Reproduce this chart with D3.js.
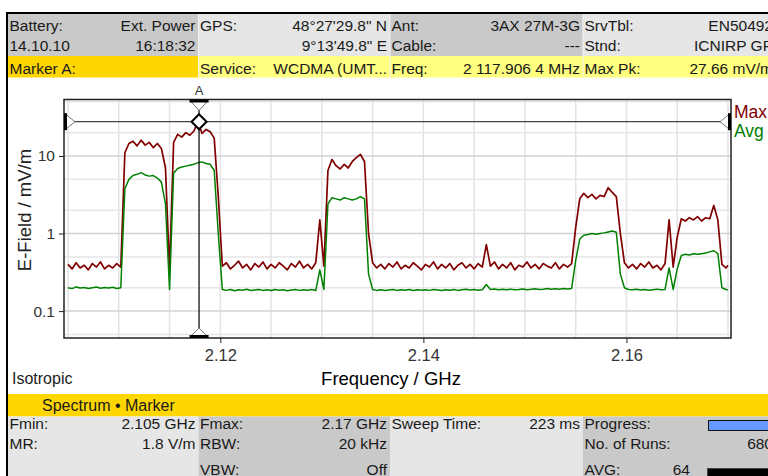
<!DOCTYPE html>
<html><head><meta charset="utf-8">
<script src="https://cdn.jsdelivr.net/npm/d3@7"></script>
<style>
html,body{margin:0;padding:0;background:#fff;overflow:hidden;}
svg{display:block;font-family:"Liberation Sans",Arial,sans-serif;}
</style></head><body>
<svg id="c" width="768" height="476"></svg>
<script>
// ---------- data ----------
const freqMHz = [
 2105.0, 2105.4, 2105.8, 2106.2, 2106.6, 2107.0, 2107.4, 2107.8, 2108.2, 2108.6,
 2109.0, 2109.4, 2109.8, 2110.2, 2110.6, 2111.0, 2111.4, 2111.8, 2112.2, 2112.6,
 2113.0, 2113.4, 2113.8, 2114.2, 2114.6, 2115.0, 2115.4, 2115.8, 2116.2, 2116.6,
 2117.0, 2117.4, 2117.8, 2118.2, 2118.6, 2119.0, 2119.4, 2119.8, 2120.2, 2120.6,
 2121.0, 2121.4, 2121.8, 2122.2, 2122.6, 2123.0, 2123.4, 2123.8, 2124.2, 2124.6,
 2125.0, 2125.4, 2125.8, 2126.2, 2126.6, 2127.0, 2127.4, 2127.8, 2128.2, 2128.6,
 2129.0, 2129.4, 2129.8, 2130.2, 2130.6, 2131.0, 2131.4, 2131.8, 2132.2, 2132.6,
 2133.0, 2133.4, 2133.8, 2134.2, 2134.6, 2135.0, 2135.4, 2135.8, 2136.2, 2136.6,
 2137.0, 2137.4, 2137.8, 2138.2, 2138.6, 2139.0, 2139.4, 2139.8, 2140.2, 2140.6,
 2141.0, 2141.4, 2141.8, 2142.2, 2142.6, 2143.0, 2143.4, 2143.8, 2144.2, 2144.6,
 2145.0, 2145.4, 2145.8, 2146.2, 2146.6, 2147.0, 2147.4, 2147.8, 2148.2, 2148.6,
 2149.0, 2149.4, 2149.8, 2150.2, 2150.6, 2151.0, 2151.4, 2151.8, 2152.2, 2152.6,
 2153.0, 2153.4, 2153.8, 2154.2, 2154.6, 2155.0, 2155.4, 2155.8, 2156.2, 2156.6,
 2157.0, 2157.4, 2157.8, 2158.2, 2158.6, 2159.0, 2159.4, 2159.8, 2160.2, 2160.6,
 2161.0, 2161.4, 2161.8, 2162.2, 2162.6, 2163.0, 2163.4, 2163.8, 2164.2, 2164.6,
 2165.0, 2165.4, 2165.8, 2166.2, 2166.6, 2167.0, 2167.4, 2167.8, 2168.2, 2168.6,
 2169.0, 2169.4, 2169.8, 2170.0
];
const maxTrace = [
 0.40, 0.35, 0.42, 0.36, 0.39, 0.34, 0.41, 0.37, 0.43, 0.35,
 0.39, 0.36, 0.41, 0.37, 11.0, 14.5, 15.5, 13.5, 16.0, 13.8,
 15.0, 12.8, 14.5, 12.5, 7.0, 0.33, 15.0, 19.0, 17.5, 20.0,
 18.5, 21.0, 27.66, 19.5, 22.0, 20.5, 17.0, 3.0, 0.38, 0.42,
 0.35, 0.39, 0.44, 0.36, 0.40, 0.34, 0.41, 0.37, 0.43, 0.35,
 0.40, 0.36, 0.42, 0.38, 0.34, 0.41, 0.37, 0.44, 0.36, 0.40,
 0.35, 0.42, 1.5, 0.38, 6.5, 9.0, 7.5, 6.8, 7.8, 7.0,
 8.5, 9.5, 10.5, 8.5, 1.0, 0.42, 0.36, 0.40, 0.35, 0.41,
 0.37, 0.43, 0.35, 0.39, 0.36, 0.42, 0.38, 0.34, 0.40, 0.37,
 0.43, 0.35, 0.40, 0.36, 0.41, 0.34, 0.39, 0.42, 0.36, 0.40,
 0.35, 0.41, 0.37, 0.72, 0.38, 0.43, 0.35, 0.40, 0.36, 0.42,
 0.34, 0.39, 0.37, 0.43, 0.36, 0.40, 0.35, 0.41, 0.38, 0.36,
 0.42, 0.35, 0.40, 0.37, 0.41, 1.2, 2.8, 3.3, 2.9, 3.2,
 2.8, 3.1, 3.0, 3.9, 3.4, 3.0, 1.0, 0.42, 0.36, 0.40,
 0.35, 0.41, 0.37, 0.43, 0.36, 0.39, 0.34, 0.41, 1.5, 0.37,
 0.9, 1.55, 1.45, 1.6, 1.5, 1.65, 1.45, 1.6, 1.55, 2.3,
 1.5, 0.40, 0.36, 0.39
];
const avgTrace = [
 0.200, 0.195, 0.205, 0.198, 0.202, 0.196, 0.200, 0.204, 0.197, 0.201,
 0.199, 0.203, 0.196, 0.200, 3.8, 5.0, 5.6, 5.8, 6.1, 5.7,
 5.5, 5.6, 5.2, 4.6, 2.4, 0.19, 6.0, 6.9, 7.2, 7.4,
 7.6, 7.8, 8.2, 8.4, 8.0, 7.8, 6.5, 1.0, 0.19, 0.185,
 0.190, 0.183, 0.188, 0.186, 0.191, 0.184, 0.187, 0.190, 0.185, 0.188,
 0.184, 0.190, 0.186, 0.189, 0.183, 0.187, 0.190, 0.185, 0.188, 0.186,
 0.190, 0.184, 0.34, 0.19, 2.4, 2.9, 2.8, 2.7, 2.9, 2.8,
 2.7, 2.8, 3.0, 2.8, 0.3, 0.19, 0.185, 0.188, 0.184, 0.187,
 0.190, 0.185, 0.188, 0.186, 0.190, 0.184, 0.188, 0.186, 0.189, 0.185,
 0.190, 0.187, 0.184, 0.189, 0.186, 0.190, 0.185, 0.188, 0.191, 0.187,
 0.190, 0.186, 0.189, 0.22, 0.190, 0.193, 0.188, 0.191, 0.189, 0.192,
 0.188, 0.190, 0.193, 0.189, 0.191, 0.194, 0.190, 0.192, 0.195, 0.191,
 0.194, 0.192, 0.195, 0.193, 0.196, 0.45, 0.85, 0.95, 0.97, 1.0,
 0.98, 1.0, 1.02, 1.05, 1.08, 1.04, 0.3, 0.2, 0.19, 0.188,
 0.191, 0.187, 0.190, 0.186, 0.189, 0.192, 0.188, 0.190, 0.36, 0.19,
 0.35, 0.52, 0.54, 0.53, 0.55, 0.54, 0.55, 0.56, 0.58, 0.60,
 0.55, 0.20, 0.19, 0.188
];
const seriesNames = ["Max", "Avg"];
const xTickValues = [2.12, 2.14, 2.16];
const yTickValues = [0.1, 1, 10];
const yTickLabels = ["0.1", "1", "10"];
const markerFreqGHz = 2.1179064;
const markerPeak = 27.66;

const headerLabels = [
  ["Battery:", "GPS:", "Ant:", "SrvTbl:"],
  ["14.10.10", "", "Cable:", "Stnd:"],
  ["Marker A:", "Service:", "Freq:", "Max Pk:"]
];
const headerValues = [
  ["Ext. Power", "48°27'29.8\" N", "3AX 27M-3G", "EN50492"],
  ["16:18:32", "9°13'49.8\" E", "---", "ICNIRP GP"],
  ["", "WCDMA (UMT...", "2 117.906 4 MHz", "27.66 mV/m"]
];
const footerLabels = [
  ["Fmin:", "Fmax:", "Sweep Time:", "Progress:"],
  ["MR:", "RBW:", "", "No. of Runs:"],
  ["", "VBW:", "", "AVG:"]
];
const footerValues = [
  ["2.105 GHz", "2.17 GHz", "223 ms", ""],
  ["1.8 V/m", "20 kHz", "", "680"],
  ["", "Off", "", ""]
];
const avgCount = "64";

// ---------- drawing ----------
const svg = d3.select("#c");
const FONT = 15.5;
const colX = [8, 198.5, 390, 583];
const colR = [198.5, 390, 583, 776];

// header
const hdrBg12 = ["#c9c9c9", "#e6e6e6", "#c9c9c9", "#e6e6e6"];
const hdrBg3 = ["#ffd700", "#ffff80", "#ffff80", "#ffff80"];
colX.forEach((cx, c) => {
  svg.append("rect").attr("x", cx).attr("y", 14).attr("width", colR[c] - cx).attr("height", 42).attr("fill", hdrBg12[c]);
  svg.append("rect").attr("x", cx).attr("y", 56).attr("width", colR[c] - cx).attr("height", 21.5).attr("fill", hdrBg3[c]);
});
[198.5, 390, 583].forEach(sx => {
  svg.append("line").attr("x1", sx).attr("x2", sx).attr("y1", 14).attr("y2", 77.5)
    .attr("stroke", "#f2f2f2").attr("stroke-width", 1);
});
const hdrBase = [30.5, 50.5, 73.5];
headerLabels.forEach((row, r) => row.forEach((t, c) => {
  svg.append("text").attr("x", colX[c] + 1.5).attr("y", hdrBase[r]).attr("font-size", FONT).attr("fill", "#1a1a1a").text(t);
  svg.append("text").attr("x", c === 3 ? 773 : colR[c] - 3).attr("y", hdrBase[r]).attr("text-anchor", "end")
    .attr("font-size", FONT).attr("fill", "#1a1a1a").text(headerValues[r][c]);
}));

// footer
svg.append("rect").attr("x", 8).attr("y", 394).attr("width", 770).attr("height", 22.5).attr("fill", "#ffd700");
svg.append("text").attr("x", 42).attr("y", 410.5).attr("font-size", 16).attr("fill", "#1a1a1a").text("Spectrum • Marker");
const ftBg = ["#e6e6e6", "#c9c9c9", "#e6e6e6", "#c9c9c9"];
colX.forEach((cx, c) => {
  svg.append("rect").attr("x", cx).attr("y", 416.5).attr("width", colR[c] - cx).attr("height", 60).attr("fill", ftBg[c]);
});
const ftBase = [429, 449, 474.5];
footerLabels.forEach((row, r) => row.forEach((t, c) => {
  svg.append("text").attr("x", colX[c] + 1.5).attr("y", ftBase[r]).attr("font-size", FONT).attr("fill", "#1a1a1a").text(t);
  svg.append("text").attr("x", c === 3 ? 773 : colR[c] - 3).attr("y", ftBase[r]).attr("text-anchor", "end")
    .attr("font-size", FONT).attr("fill", "#1a1a1a").text(footerValues[r][c]);
}));
svg.append("text").attr("x", 690).attr("y", ftBase[2]).attr("text-anchor", "end").attr("font-size", FONT).attr("fill", "#1a1a1a").text(avgCount);
svg.append("rect").attr("x", 708.5).attr("y", 420.5).attr("width", 70).attr("height", 10).attr("fill", "#6699ff").attr("stroke", "#111").attr("stroke-width", 1);
svg.append("rect").attr("x", 707.5).attr("y", 468.5).attr("width", 70).attr("height", 10).attr("fill", "#000").attr("stroke", "#444").attr("stroke-width", 1);

// outer frame
svg.append("line").attr("x1", 7).attr("x2", 7).attr("y1", 12).attr("y2", 476).attr("stroke", "#000").attr("stroke-width", 2);
svg.append("line").attr("x1", 6).attr("x2", 768).attr("y1", 13).attr("y2", 13).attr("stroke", "#000").attr("stroke-width", 2);

// plot
const PL = 64, PR = 731, PT = 99.5, PB = 338;
const x = d3.scaleLinear().domain([2.105, 2.17]).range([68, 728]);
const y = d3.scaleLog().domain([0.045, 53.5]).range([PB, PT]);

svg.append("rect").attr("x", PL).attr("y", PT).attr("width", PR - PL).attr("height", PB - PT).attr("fill", "#fff");

const grid = svg.append("g");
const vGrid = d3.range(0, 14).map(k => 2.105 + k * 0.005);
grid.selectAll(".vg").data(vGrid).join("line")
  .attr("x1", d => x(d)).attr("x2", d => x(d)).attr("y1", PT).attr("y2", PB)
  .attr("stroke", "#e3e3e3").attr("stroke-width", 1.5);
const hGrid = [0.05, 0.1, 0.2, 0.5, 1, 2, 5, 10, 20, 50];
grid.selectAll(".hg").data(hGrid).join("line")
  .attr("x1", PL).attr("x2", PR).attr("y1", d => y(d)).attr("y2", d => y(d))
  .attr("stroke", d => yTickValues.includes(d) ? "#d2d2d2" : "#e6e6e6").attr("stroke-width", 1.5);

// axes
const xAxis = svg.append("g").attr("transform", `translate(0,${PB})`)
  .call(d3.axisBottom(x).tickValues(xTickValues).tickFormat(d3.format(".2f")).tickSize(5).tickPadding(6));
xAxis.select(".domain").remove();
xAxis.selectAll("line").attr("stroke", "#222");
xAxis.selectAll("text").attr("font-size", 16.5).attr("fill", "#333").attr("font-family", "Liberation Sans, Arial, sans-serif");

const yAxis = svg.append("g").attr("transform", `translate(${PL},0)`)
  .call(d3.axisLeft(y).tickValues(yTickValues).tickFormat((d, i) => yTickLabels[i]).tickSize(5).tickPadding(4));
yAxis.select(".domain").remove();
yAxis.selectAll("line").attr("stroke", "#222");
yAxis.selectAll("text").attr("font-size", 15.5).attr("fill", "#333").attr("font-family", "Liberation Sans, Arial, sans-serif");

svg.append("text").attr("transform", "translate(31,210) rotate(-90)").attr("text-anchor", "middle")
  .attr("font-size", 18.5).attr("fill", "#222").text("E-Field / mV/m");
svg.append("text").attr("x", 391).attr("y", 385).attr("text-anchor", "middle")
  .attr("font-size", 18.5).attr("fill", "#000").text("Frequency / GHz");
svg.append("text").attr("x", 12).attr("y", 384).attr("font-size", 16).attr("fill", "#222").text("Isotropic");

// traces
svg.append("clipPath").attr("id", "pc").append("rect").attr("x", PL).attr("y", PT).attr("width", PR - PL).attr("height", PB - PT);
const pts = freqMHz.map((f, i) => ({ f: f / 1000, max: maxTrace[i], avg: avgTrace[i] }));
const traces = svg.append("g").attr("clip-path", "url(#pc)");
traces.append("path").datum(pts)
  .attr("d", d3.line().x(d => x(d.f)).y(d => y(d.max)))
  .attr("fill", "none").attr("stroke", "#800000").attr("stroke-width", 1.7).attr("stroke-linejoin", "round");
traces.append("path").datum(pts)
  .attr("d", d3.line().x(d => x(d.f)).y(d => y(d.avg)))
  .attr("fill", "none").attr("stroke", "#008000").attr("stroke-width", 1.5).attr("stroke-linejoin", "round");

// marker
const mx = x(markerFreqGHz), my = y(markerPeak);
svg.append("line").attr("x1", PL).attr("x2", PR).attr("y1", my).attr("y2", my).attr("stroke", "#444").attr("stroke-width", 1.2);
svg.append("line").attr("x1", mx).attr("x2", mx).attr("y1", PT).attr("y2", PB).attr("stroke", "#000").attr("stroke-width", 1.2);

// plot border
svg.append("rect").attr("x", PL).attr("y", PT).attr("width", PR - PL).attr("height", PB - PT)
  .attr("fill", "none").attr("stroke", "#222").attr("stroke-width", 1.5);

// marker symbols
const tri = (pts) => "M" + pts.map(p => p.join(",")).join("L") + "Z";
svg.append("path").attr("d", tri([[mx - 9, PT + 1], [mx + 9, PT + 1], [mx, PT + 11]])).attr("fill", "#fff").attr("stroke", "#777").attr("stroke-width", 1);
svg.append("rect").attr("x", mx - 9.5).attr("y", PT).attr("width", 19).attr("height", 3).attr("fill", "#000");
svg.append("path").attr("d", tri([[mx - 9, PB - 1], [mx + 9, PB - 1], [mx, PB - 10]])).attr("fill", "#fff").attr("stroke", "#777").attr("stroke-width", 1);
svg.append("rect").attr("x", mx - 9.5).attr("y", PB - 3).attr("width", 19).attr("height", 3).attr("fill", "#000");
svg.append("path").attr("d", tri([[PL + 1, my - 8], [PL + 1, my + 8], [PL + 11, my]])).attr("fill", "#fff").attr("stroke", "#777").attr("stroke-width", 1);
svg.append("rect").attr("x", PL).attr("y", my - 8.5).attr("width", 3).attr("height", 17).attr("fill", "#000");
svg.append("path").attr("d", tri([[PR - 1, my - 8], [PR - 1, my + 8], [PR - 11, my]])).attr("fill", "#fff").attr("stroke", "#777").attr("stroke-width", 1);
svg.append("rect").attr("x", PR - 3).attr("y", my - 8.5).attr("width", 3).attr("height", 17).attr("fill", "#000");
svg.append("path").attr("d", tri([[mx, my - 7.5], [mx + 7.5, my], [mx, my + 7.5], [mx - 7.5, my]])).attr("fill", "#fff").attr("stroke", "#000").attr("stroke-width", 2);
svg.append("text").attr("x", mx).attr("y", 95).attr("text-anchor", "middle").attr("font-size", 13).attr("fill", "#333").text("A");

// legend
svg.append("text").attr("x", 734).attr("y", 118).attr("font-size", 17.5).attr("fill", "#800000").text(seriesNames[0]);
svg.append("text").attr("x", 734).attr("y", 137).attr("font-size", 17.5).attr("fill", "#008000").text(seriesNames[1]);
</script>
</body></html>
